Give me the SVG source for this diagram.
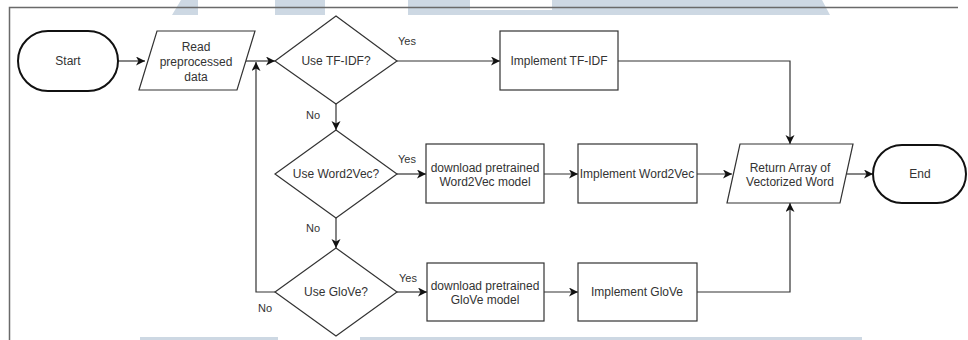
<svg xmlns="http://www.w3.org/2000/svg" width="968" height="340" viewBox="0 0 968 340">
<style>
text{font-family:"Liberation Sans",Arial,sans-serif;font-size:12px;fill:#333;text-anchor:middle}
.lbl{font-size:11px}
.box{fill:#fff;stroke:#333;stroke-width:1.2}
.term{fill:#fff;stroke:#111;stroke-width:2}
.edge{fill:none;stroke:#333;stroke-width:1.2}
.wm{fill:#cdd8e3}
.frame{fill:none;stroke:#6a6a6a;stroke-width:1.5}
</style>
<defs>
<marker id="arr" markerUnits="userSpaceOnUse" markerWidth="10" markerHeight="10" refX="9" refY="4.5" orient="auto">
<path d="M0,0 L9,4.5 L0,9 L2.5,4.5 z" fill="#111"/>
</marker>
</defs>
<rect width="968" height="340" fill="#fff"/>
<g id="watermark">
<polygon class="wm" points="181,0 198,0 198,15 172,15"/>
<rect class="wm" x="275" y="0" width="50" height="15"/>
<rect class="wm" x="408" y="0" width="62" height="15"/>
<rect class="wm" x="408" y="10" width="144" height="5"/>
<polygon class="wm" points="552,0 822,0 830,15 552,15"/>
<rect class="wm" x="140" y="337" width="138" height="3"/>
<rect class="wm" x="360" y="337" width="502" height="3"/>
</g>
<path class="frame" d="M9.5,340 V7.5 H958"/>
<g id="connectors">
<path class="edge" d="M118,61 H145" marker-end="url(#arr)"/>
<path class="edge" d="M246,61 H275" marker-end="url(#arr)"/>
<path class="edge" d="M275,292 H256 V62" marker-end="url(#arr)"/>
<path class="edge" d="M397,61 H500" marker-end="url(#arr)"/>
<path class="edge" d="M618,61 H790 V144" marker-end="url(#arr)"/>
<path class="edge" d="M336,104 V130" marker-end="url(#arr)"/>
<path class="edge" d="M397,174 H426" marker-end="url(#arr)"/>
<path class="edge" d="M544,174 H578" marker-end="url(#arr)"/>
<path class="edge" d="M697,174 H732" marker-end="url(#arr)"/>
<path class="edge" d="M847,174 H873" marker-end="url(#arr)"/>
<path class="edge" d="M336,218 V248" marker-end="url(#arr)"/>
<path class="edge" d="M397,292 H427" marker-end="url(#arr)"/>
<path class="edge" d="M544,292 H578" marker-end="url(#arr)"/>
<path class="edge" d="M697,292 H790 V203" marker-end="url(#arr)"/>
<text class="lbl" x="407" y="45">Yes</text>
<text class="lbl" x="313" y="119">No</text>
<text class="lbl" x="407" y="163">Yes</text>
<text class="lbl" x="313" y="232">No</text>
<text class="lbl" x="408" y="282">Yes</text>
<text class="lbl" x="265" y="312">No</text>
</g>
<g id="start">
<rect class="term" x="18" y="31" width="100" height="60" rx="30" ry="30"/>
<text x="68" y="65">Start</text>
</g>
<g id="read">
<polygon class="box" points="157,31 255,31 237,90 139,90"/>
<text x="196" y="51">Read</text>
<text x="196" y="66">preprocessed</text>
<text x="196" y="81">data</text>
</g>
<g id="use-tfidf">
<polygon class="box" points="336,16 397,61 336,104 275,61"/>
<text x="336" y="65">Use TF-IDF?</text>
</g>
<g id="impl-tfidf">
<rect class="box" x="500" y="31" width="118" height="59"/>
<text x="559" y="65">Implement TF-IDF</text>
</g>
<g id="use-w2v">
<polygon class="box" points="336,130 397,174 336,218 275,174"/>
<text x="336" y="178">Use Word2Vec?</text>
</g>
<g id="dl-w2v">
<rect class="box" x="426" y="144" width="118" height="59"/>
<text x="485" y="172">download pretrained</text>
<text x="485" y="186">Word2Vec model</text>
</g>
<g id="impl-w2v">
<rect class="box" x="578" y="144" width="119" height="59"/>
<text x="637" y="178">Implement Word2Vec</text>
</g>
<g id="return">
<polygon class="box" points="740,144 853,144 840,203 727,203"/>
<text x="790" y="172">Return Array of</text>
<text x="790" y="186">Vectorized Word</text>
</g>
<g id="end">
<rect class="term" x="873" y="145" width="93" height="58" rx="29" ry="29"/>
<text x="920" y="178">End</text>
</g>
<g id="use-glove">
<polygon class="box" points="336,248 397,292 336,336 275,292"/>
<text x="336" y="296">Use GloVe?</text>
</g>
<g id="dl-glove">
<rect class="box" x="427" y="263" width="117" height="58"/>
<text x="485" y="290">download pretrained</text>
<text x="485" y="304">GloVe model</text>
</g>
<g id="impl-glove">
<rect class="box" x="578" y="263" width="119" height="58"/>
<text x="637" y="296">Implement GloVe</text>
</g>
</svg>
